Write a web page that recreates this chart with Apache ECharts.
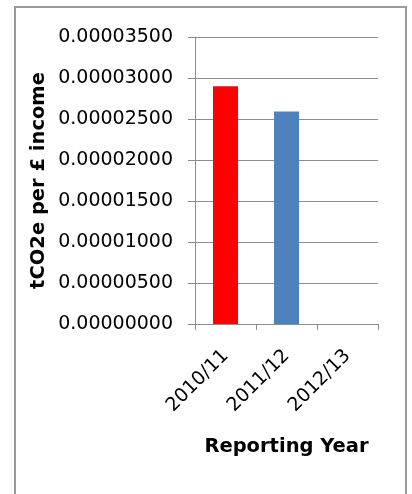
<!DOCTYPE html>
<html>
<head>
<meta charset="utf-8">
<script src="https://cdn.jsdelivr.net/npm/echarts@6/dist/echarts.min.js"></script>
<style>
  html, body { margin: 0; padding: 0; background: #fff; }
  #chart { width: 412px; height: 494px; }
</style>
</head>
<body>
<div id="chart"></div>
<script>
// Carbon intensity per reporting year
const categories = ['2010/11', '2011/12', '2012/13'];
const intensity = [0.0000290, 0.0000259, null];
const barColors = ['#FF0000', '#4F81BD', '#4F81BD'];

const FONT = 'DejaVu Sans';
const chart = echarts.init(document.getElementById('chart'));

chart.setOption({
  animation: false,
  backgroundColor: '#ffffff',
  graphic: [{
    type: 'rect',
    shape: { x: 15, y: 7, width: 391, height: 520 },
    style: { fill: 'none', stroke: '#9a9a9a', lineWidth: 2 },
    silent: true
  }],
  grid: { left: 195, right: 34, top: 37, bottom: 170 },
  xAxis: {
    type: 'category',
    data: categories,
    name: 'Reporting Year',
    nameLocation: 'middle',
    nameGap: 113,
    nameTextStyle: { fontFamily: FONT, fontWeight: 'bold', fontSize: 19.5, color: '#000' },
    axisLine: { lineStyle: { color: '#8c8c8c', width: 1 } },
    axisTick: { show: true, length: 6, lineStyle: { color: '#8c8c8c' } },
    axisLabel: { rotate: 45, margin: 29, fontFamily: FONT, fontSize: 19, color: '#000', interval: 0 }
  },
  yAxis: {
    type: 'value',
    min: 0,
    max: 0.000035,
    interval: 0.000005,
    name: 'tCO2e per £ income',
    nameLocation: 'middle',
    nameGap: 146,
    nameRotate: 90,
    nameTextStyle: { fontFamily: FONT, fontWeight: 'bold', fontSize: 19.5, color: '#000' },
    axisLine: { show: true, lineStyle: { color: '#8c8c8c', width: 1 } },
    axisTick: { show: true, length: 7, lineStyle: { color: '#8c8c8c' } },
    splitLine: { lineStyle: { color: '#8c8c8c', width: 1 } },
    axisLabel: {
      margin: 22,
      fontFamily: FONT,
      fontSize: 19,
      color: '#000',
      formatter: v => v.toFixed(8)
    }
  },
  series: [{
    type: 'bar',
    data: intensity.map((v, i) => ({ value: v, itemStyle: { color: barColors[i] } })),
    barWidth: 25
  }]
});
</script>
</body>
</html>
